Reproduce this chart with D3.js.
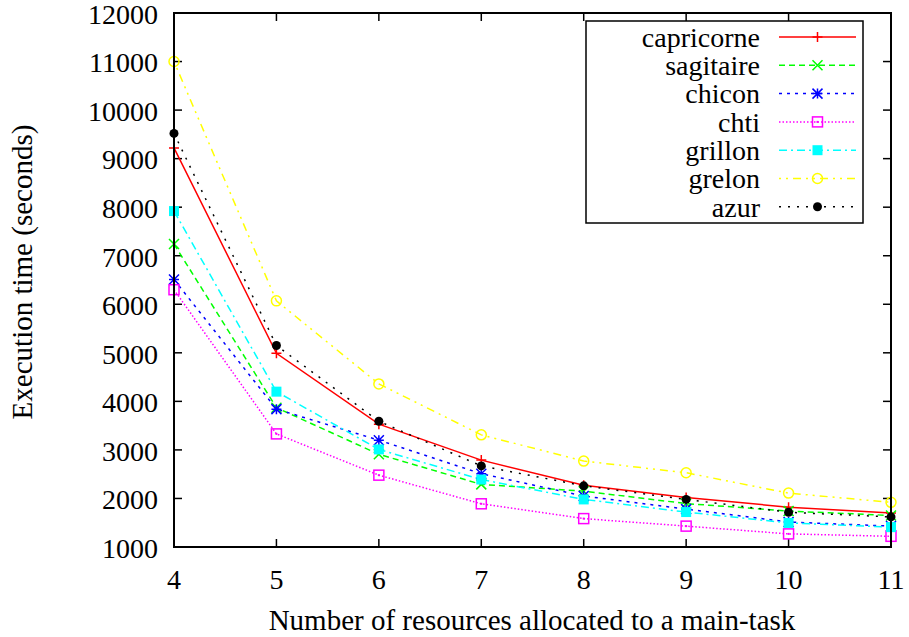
<!DOCTYPE html>
<html><head><meta charset="utf-8">
<script src="https://cdn.jsdelivr.net/npm/d3@7"></script>
<style>body{margin:0;background:#fff}svg{display:block}</style>
</head><body>
<script>
const xValues = [4, 5, 6, 7, 8, 9, 10, 11];
const seriesNames = ["capricorne", "sagitaire", "chicon", "chti", "grillon", "grelon", "azur"];
const capricorne = [9220, 4990, 3530, 2790, 2270, 2020, 1820, 1700];
const sagitaire  = [7240, 3870, 2910, 2290, 2150, 1895, 1740, 1650];
const chicon     = [6510, 3840, 3200, 2510, 2050, 1780, 1515, 1430];
const chti       = [6300, 3330, 2480, 1890, 1585, 1430, 1270, 1220];
const grillon    = [7920, 4200, 3010, 2390, 1980, 1720, 1495, 1410];
const grelon     = [11000, 6070, 4360, 3310, 2770, 2530, 2110, 1920];
const azur       = [9520, 5150, 3590, 2670, 2260, 1980, 1715, 1620];
const yTicks = [1000,2000,3000,4000,5000,6000,7000,8000,9000,10000,11000,12000];
const xTicks = [4,5,6,7,8,9,10,11];
const xTitle = "Number of resources allocated to a main-task";
const yTitle = "Execution time (seconds)";

const seriesData = [capricorne, sagitaire, chicon, chti, grillon, grelon, azur];
const colors = ["#ff0000","#00ff00","#0000ff","#ff00ff","#00ffff","#ffff00","#000000"];
const dashes = ["none","6,4","3,5","1.5,2","8,4,2,4","2,5,2,5,8,5","2,7"];
const markers = ["plus","cross","star","sqopen","sqfill","circopen","circfill"];

const FONT = '"Liberation Serif"';
const W = 909, H = 637;
const L = 174, R = 891, T = 13, B = 547;
const svg = d3.select("body").append("svg").attr("width", W).attr("height", H);
const x = d3.scaleLinear().domain([4, 11]).range([L, R]);
const y = d3.scaleLinear().domain([1000, 12000]).range([B, T]);

const fs = 28;
function txt(sel, size) { return sel.style("font-family", FONT).style("font-size", (size || fs) + "px").attr("fill", "#000"); }

const gAx = svg.append("g").attr("stroke","#000").attr("stroke-width",1.5);
yTicks.forEach(v => {
  if (v > 1000 && v < 12000) {
    gAx.append("line").attr("x1", L).attr("x2", L+8).attr("y1", y(v)).attr("y2", y(v));
    gAx.append("line").attr("x1", R).attr("x2", R-8).attr("y1", y(v)).attr("y2", y(v));
  }
});
xTicks.forEach(v => {
  if (v > 4 && v < 11) {
    gAx.append("line").attr("y1", B).attr("y2", B-8).attr("x1", x(v)).attr("x2", x(v));
    gAx.append("line").attr("y1", T).attr("y2", T+8).attr("x1", x(v)).attr("x2", x(v));
  }
});
txt(svg.append("g").selectAll("text").data(yTicks).join("text")
  .attr("x", L-16).attr("y", d => y(d) + 1).attr("dy","0.35em").attr("text-anchor","end")).text(d => d);
txt(svg.append("g").selectAll("text").data(xTicks).join("text")
  .attr("x", d => x(d)).attr("y", B+32).attr("dy","0.35em").attr("text-anchor","middle")).text(d => d);
txt(svg.append("text").attr("x", 532).attr("y", 620).attr("dy","0.35em").attr("text-anchor","middle"), 29).text(xTitle);
txt(svg.append("text").attr("transform", `translate(22,${272}) rotate(-90)`).attr("dy","0.35em")
  .attr("text-anchor","middle"), 29).text(yTitle);

function drawMarker(g, type, cx, cy, col) {
  const s = 5;
  if (type === "plus") {
    g.append("path").attr("d", `M${cx-s},${cy}H${cx+s}M${cx},${cy-s}V${cy+s}`).attr("stroke", col).attr("stroke-width",1.5).attr("fill","none");
  } else if (type === "cross") {
    g.append("path").attr("d", `M${cx-s},${cy-s}L${cx+s},${cy+s}M${cx-s},${cy+s}L${cx+s},${cy-s}`).attr("stroke", col).attr("stroke-width",1.5).attr("fill","none");
  } else if (type === "star") {
    g.append("path").attr("d", `M${cx-s},${cy}H${cx+s}M${cx},${cy-s}V${cy+s}M${cx-s},${cy-s}L${cx+s},${cy+s}M${cx-s},${cy+s}L${cx+s},${cy-s}`).attr("stroke", col).attr("stroke-width",1.5).attr("fill","none");
  } else if (type === "sqopen") {
    g.append("rect").attr("x", cx-s).attr("y", cy-s).attr("width", 2*s).attr("height", 2*s).attr("stroke", col).attr("stroke-width",1.5).attr("fill","none");
    g.append("rect").attr("x", cx-1).attr("y", cy-1).attr("width", 2).attr("height", 2).attr("fill", col);
  } else if (type === "sqfill") {
    g.append("rect").attr("x", cx-s).attr("y", cy-s).attr("width", 2*s).attr("height", 2*s).attr("fill", col);
  } else if (type === "circopen") {
    g.append("circle").attr("cx", cx).attr("cy", cy).attr("r", s).attr("stroke", col).attr("stroke-width",1.5).attr("fill","none");
  } else if (type === "circfill") {
    g.append("circle").attr("cx", cx).attr("cy", cy).attr("r", 4.5).attr("fill", col);
  }
}

const line = d3.line().x((d,i) => x(xValues[i])).y(d => y(d));
const plot = svg.append("g");
seriesData.forEach((vals, k) => {
  plot.append("path").datum(vals).attr("d", line).attr("fill","none")
    .attr("stroke", colors[k]).attr("stroke-width", 1.5).attr("stroke-dasharray", dashes[k]);
});
seriesData.forEach((vals, k) => {
  vals.forEach((v, i) => drawMarker(plot, markers[k], x(xValues[i]), y(v), colors[k]));
});

svg.append("rect").attr("x", L).attr("y", T).attr("width", R-L).attr("height", B-T)
  .attr("fill","none").attr("stroke","#000").attr("stroke-width",2);

const lg = svg.append("g");
lg.append("rect").attr("x", 586).attr("y", 21).attr("width", 277).attr("height", 202)
  .attr("fill","#fff").attr("stroke","#000").attr("stroke-width",1.5);
seriesNames.forEach((n, k) => {
  const cy = 37 + k*28.3;
  txt(lg.append("text").attr("x", 760).attr("y", cy).attr("dy","0.35em").attr("text-anchor","end")).text(n);
  lg.append("line").attr("x1", 779).attr("x2", 856).attr("y1", cy).attr("y2", cy)
    .attr("stroke", colors[k]).attr("stroke-width",1.5).attr("stroke-dasharray", dashes[k]);
  drawMarker(lg, markers[k], 817.5, cy, colors[k]);
});
</script>
</body></html>
